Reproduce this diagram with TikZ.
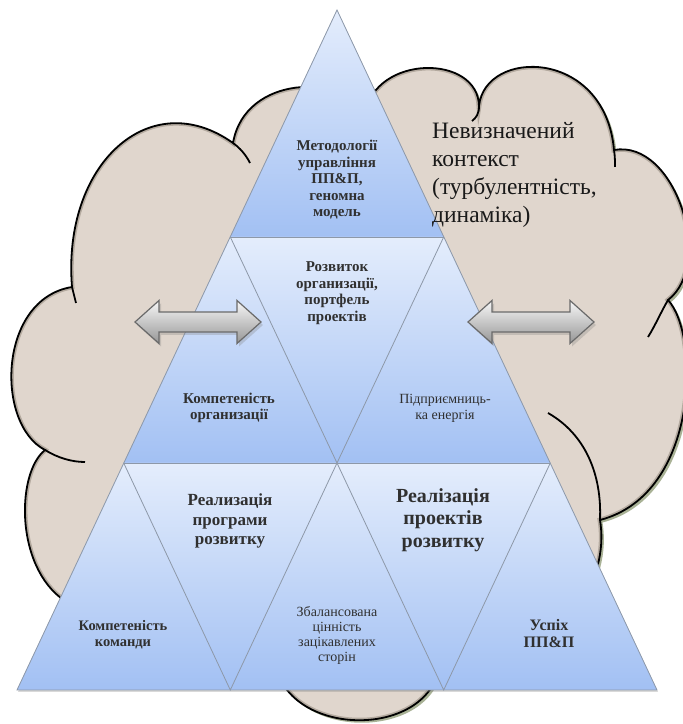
\documentclass[tikz,border=0pt]{standalone}
\usepackage{fontspec}
\setmainfont{LiberationSerif}[Extension=.ttf, UprightFont=*-Regular, BoldFont=*-Bold]
\usetikzlibrary{shadows}
\definecolor{cloudfill}{HTML}{E0D6CD}
\definecolor{cloudline}{HTML}{B4AA9F}
\definecolor{cloudshadow}{HTML}{A9B296}
\definecolor{pyrtop}{HTML}{E4EDFC}
\definecolor{pyrbottom}{HTML}{A2C0F3}
\definecolor{pyredge}{HTML}{8D98A8}
\definecolor{labelgray}{HTML}{303030}
\definecolor{arrowline}{HTML}{6A6A6A}
\definecolor{arrowgray}{HTML}{969696}
\newcommand\cloudpath{(70,120) .. controls (15,150) and (15,250) .. (45,274)
  .. controls (-5,300) and (-2,425) .. (72,437)
  .. controls (62,560) and (150,640) .. (233,581)
  .. controls (245,650) and (345,650) .. (365,610)
  .. controls (375,670) and (478,670) .. (479,618)
  .. controls (485,676) and (605,676) .. (614,574)
  .. controls (675,585) and (715,460) .. (668,424)
  .. controls (700,390) and (700,230) .. (600,204)
  .. controls (604,180) and (600,150) .. (580,120)
  -- (440,60) .. controls (430,-15) and (290,-15) .. (275,60) -- cycle}
\tikzset{
  tlabel/.style={align=center, text=labelgray, inner sep=0pt, font=\bfseries\fontsize{15}{16.5}\selectfont},
  cloudedge/.style={line width=1.8pt},
  dblarrow/.style={draw=arrowline, line width=1.2pt, top color=white!97!black, middle color=white!88!black, bottom color=arrowgray,
    drop shadow={shadow xshift=2pt, shadow yshift=-3pt, opacity=.3}}
}
\begin{document}
\begin{tikzpicture}[x=1pt,y=1pt]
  \useasboundingbox (0,0) rectangle (683,724);
  \fill[cloudfill, drop shadow={shadow xshift=2.5pt, shadow yshift=-2.5pt, fill=cloudshadow, opacity=1}] \cloudpath;
  \begin{scope}
    \clip \cloudpath;
    \draw[cloudline, line width=5pt] \cloudpath;
  \end{scope}
  \draw[cloudedge] \cloudpath;
  \draw[cloudedge] (45,274) .. controls (58,266) and (72,262) .. (85,262);
  \draw[cloudedge] (72,437) -- (76,421);
  \draw[cloudedge] (233,581) .. controls (240,576) and (246,569) .. (250,561);
  \draw[cloudedge] (479,618) .. controls (479,610) and (476,606) .. (472,603);
  \draw[cloudedge] (614,574) .. controls (615,568) and (615,562) .. (615,557);
  \draw[cloudedge] (668,424) .. controls (661,412) and (655,398) .. (648,387);
  \draw[cloudedge] (548,311) .. controls (585,290) and (602,250) .. (600,204);

  \coordinate (apex) at (337,714);
  \coordinate (b1) at (230.3,487);
  \coordinate (b2) at (443.7,487);
  \coordinate (c1) at (123.7,261);
  \coordinate (c2) at (337,261);
  \coordinate (c3) at (550.3,261);
  \coordinate (d1) at (17,34);
  \coordinate (d2) at (230.3,34);
  \coordinate (d3) at (443.7,34);
  \coordinate (d4) at (657,34);
  \fill[pyrbottom, drop shadow={shadow xshift=1pt, shadow yshift=-2pt, opacity=.3}] (apex) -- (d1) -- (d4) -- cycle;
  \shade[top color=pyrtop, bottom color=pyrbottom] (apex) -- (b1) -- (b2) -- cycle;
  \shade[top color=pyrtop, bottom color=pyrbottom] (b1) -- (c1) -- (c3) -- (b2) -- cycle;
  \shade[top color=pyrtop, bottom color=pyrbottom] (c1) -- (d1) -- (d4) -- (c3) -- cycle;
  \draw[pyredge, line width=0.8pt] (apex) -- (d1) -- (d4) -- cycle;
  \draw[pyredge, line width=0.8pt] (b1) -- (b2) (c1) -- (c3);
  \draw[pyredge, line width=0.8pt] (b1) -- (c2) -- (b2) (c1) -- (d2) -- (c2) -- (d3) -- (c3);

  \foreach \ax in {198,531}
    \draw[dblarrow, shift={(\ax,402)}] (-63,0) -- (-39,21.5) -- (-39,10) -- (39,10) -- (39,21.5) -- (63,0)
      -- (39,-21.5) -- (39,-10) -- (-39,-10) -- (-39,-21.5) -- cycle;

  \node[tlabel] (metod) at (337,544) {Методології\\управління\\ПП\&П,\\геномна\\модель};
  \node[tlabel] (rozvytok) at (337,431) {Розвиток\\организації,\\портфель\\проектів};
  \node[tlabel] (kompOrg) at (229,316) {Компетеність\\организації};
  \node[tlabel, font=\fontsize{14}{16}\selectfont] (pidpr) at (445,316) {Підприємниць-\\ка енергія};
  \node[tlabel, font=\bfseries\fontsize{17}{19.5}\selectfont] (realProg) at (230,203) {Реализація\\програми\\розвитку};
  \node[tlabel, font=\bfseries\fontsize{20}{22.5}\selectfont] (realProj) at (443,204) {Реалізація\\проектів\\розвитку};
  \node[tlabel, font=\bfseries\fontsize{14.5}{16}\selectfont] (kompKom) at (123,89) {Компетеність\\команди};
  \node[tlabel, font=\fontsize{14}{15}\selectfont] (zbal) at (337,89) {Збалансована\\цінність\\зацікавлених\\сторін};
  \node[tlabel, font=\bfseries\fontsize{16}{17}\selectfont] (uspikh) at (549,90) {Успіх\\ПП\&П};
  \node[align=left, anchor=west, inner sep=0pt, text=black!90, font=\fontsize{23.5}{28}\selectfont] (context) at (432,549)
    {Невизначений\\контекст\\(турбулентність,\\динаміка)};
\end{tikzpicture}
\end{document}
